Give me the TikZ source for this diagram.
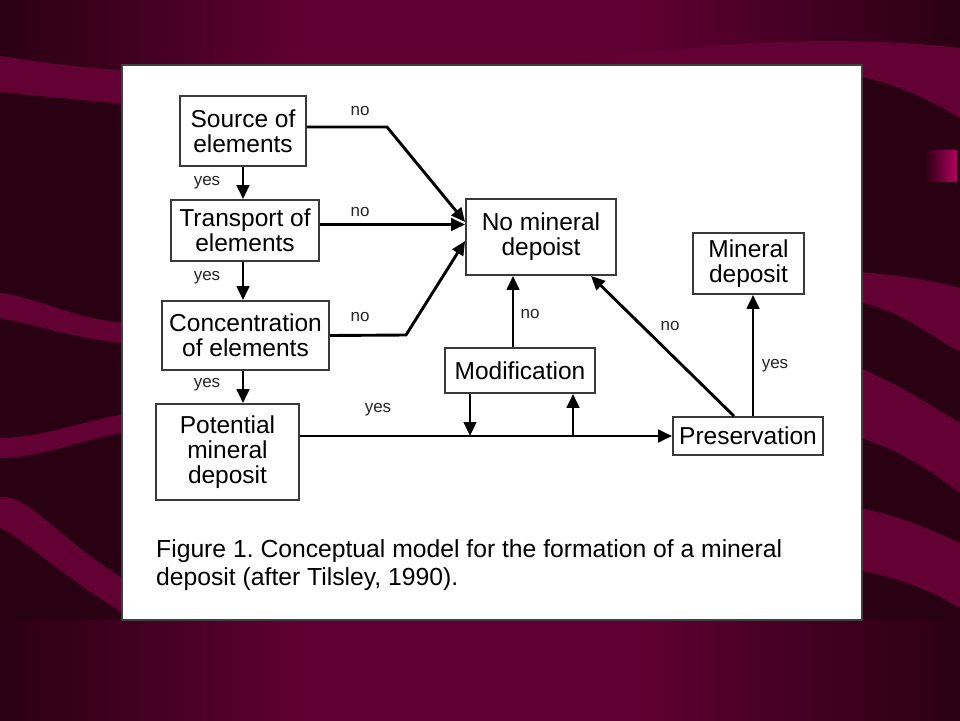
\documentclass[tikz,border=0pt]{standalone}
\usepackage{fontspec}
\setmainfont{Liberation Sans}
\usetikzlibrary{arrows.meta}
\definecolor{bgdark}{HTML}{2A0013}
\definecolor{bgmar}{HTML}{600032}
\definecolor{bandc}{HTML}{630034}
\definecolor{pinkq}{HTML}{B0005C}
\definecolor{boxline}{HTML}{3A3A3A}
\pgfdeclarehorizontalshading{stripshade}{100bp}{color(0bp)=(bgdark); color(25bp)=(bgdark); color(41bp)=(bgmar); color(58bp)=(bgmar); color(75bp)=(bgdark); color(100bp)=(bgdark)}
\tikzset{
  fbox/.style={draw=boxline, line width=1.8pt, fill=white, inner sep=0pt, align=center,
    font=\fontsize{24.5}{25}\selectfont},
  lbl/.style={font=\fontsize{17}{18}\selectfont, text=black!85, inner sep=0pt},
  arr/.style={draw=black, line width=2.9pt, -{Triangle[length=14pt,width=12.5pt]}},
  captext/.style={font=\fontsize{24.7}{28}\selectfont, anchor=base west, inner sep=0pt}
}
\frenchspacing
\begin{document}
\begin{tikzpicture}[x=1pt,y=-1pt]
\useasboundingbox (0,0) rectangle (960,720);
% background
\fill[bgdark] (0,0) rectangle (960,720);
\shade[shading=stripshade] (0,0) rectangle (960,66);
\shade[shading=stripshade] (0,620) rectangle (960,720);
\fill[bandc] (560,66) .. controls (700,40) and (850,35) .. (960,48) -- (960,118) .. controls (930,100) and (900,85) .. (858,76) -- (858,66) -- cycle;
\fill[bandc] (0,56) .. controls (40,62) and (80,68) .. (125,70) -- (125,104) .. controls (80,100) and (40,96) .. (0,92) -- cycle;
\fill[bandc] (0,293) .. controls (40,298) and (70,318) .. (125,323) -- (125,343) .. controls (70,338) and (40,325) .. (0,318) -- cycle;
\fill[bandc] (0,438) .. controls (40,438) and (80,422) .. (125,414) -- (125,432) .. controls (80,440) and (40,458) .. (0,458) -- cycle;
\fill[bandc] (0,497) .. controls (30,495) and (60,540) .. (125,580) -- (125,614) .. controls (60,575) and (20,535) .. (0,528) -- cycle;
\fill[bandc] (858,272) .. controls (900,275) and (930,280) .. (960,288) -- (960,352) .. controls (930,335) and (900,310) .. (858,302) -- cycle;
\fill[bandc] (858,367) .. controls (900,385) and (930,405) .. (960,423) -- (960,493) .. controls (930,470) and (900,450) .. (858,437) -- cycle;
\fill[bandc] (858,508) .. controls (900,515) and (930,530) .. (960,543) -- (960,608) .. controls (930,590) and (900,578) .. (858,570) -- cycle;
\shade[left color=bgdark, right color=pinkq] (925,150) rectangle (957,181);
% panel
\draw[line width=1.2pt, draw=black!75, fill=white] (122,65) rectangle (862,620);

% nodes
\node[fbox, minimum width=126pt, minimum height=70pt] (src) at (243,131) {Source of\\elements};
\node[fbox, minimum width=148pt, minimum height=61pt] (tra) at (245,230.5) {Transport of\\elements};
\node[fbox, minimum width=167pt, minimum height=69pt] (con) at (245.5,335.5) {Concentration\\of elements};
\node[fbox, minimum width=143pt, minimum height=96pt] (pot) at (227.5,452) {Potential\\mineral\\deposit};
\node[fbox, minimum width=150pt, minimum height=76pt] (nmd) at (541,237) {No mineral\\depoist};
\node[fbox, minimum width=111pt, minimum height=61pt] (min) at (748.5,263.5) {Mineral\\deposit};
\node[fbox, minimum width=150pt, minimum height=45pt] (mod) at (520,370.5) {Modification};
\node[fbox, minimum width=150pt, minimum height=38pt] (pres) at (748,436) {Preservation};

\coordinate (k1) at (387,127);
\coordinate (k3) at (406,335);

% connectors
\draw[arr] (src.south) -- (src.south |- tra.north);
\draw[arr] ([xshift=-2pt]tra.south) -- ([xshift=-2pt]tra.south |- con.north);
\draw[arr] ([xshift=-2.5pt]con.south) -- ([xshift=-2.5pt]con.south |- pot.north);
\draw[arr] ([yshift=4pt]src.east) -- (k1) -- ([yshift=15pt]nmd.west);
\draw[arr] ([yshift=6pt]tra.east) -- ([yshift=6pt]tra.east -| nmd.west);
\draw[arr] (con.east) -- (k3) -- ([yshift=-4pt]nmd.west);
\draw[arr] (pot.east |- pres.west) -- (pres.west);
\draw[arr] ([xshift=-50pt]mod.south) -- ([xshift=-50pt]mod.south |- pres.west);
\draw[arr] ([xshift=53pt]mod.south |- pres.west) -- ([xshift=53pt]mod.south);
\draw[arr] ([xshift=-7pt]mod.north) -- ([xshift=-7pt]mod.north |- nmd.south);
\draw[arr] ([xshift=-14pt]pres.north) -- ([xshift=50pt]nmd.south);
\draw[arr] ([xshift=5pt]pres.north) -- ([xshift=5pt]pres.north |- min.south);

% labels
\node[lbl] (l1) at (360,111) {no};
\node[lbl] (l2) at (360,212) {no};
\node[lbl] (l3) at (360,317) {no};
\node[lbl] (y1) at (207,183) {yes};
\node[lbl] (y2) at (207,278) {yes};
\node[lbl] (y3) at (207,385) {yes};
\node[lbl] (y4) at (378,410) {yes};
\node[lbl] (l4) at (530,314) {no};
\node[lbl] (l5) at (670,326) {no};
\node[lbl] (y5) at (775,366) {yes};

% caption
\node[captext] (c1) at (156,557) {Figure 1. Conceptual model for the formation of a mineral};
\node[captext] (c2) at (156,585) {deposit (after Tilsley, 1990).};
\end{tikzpicture}
\end{document}
